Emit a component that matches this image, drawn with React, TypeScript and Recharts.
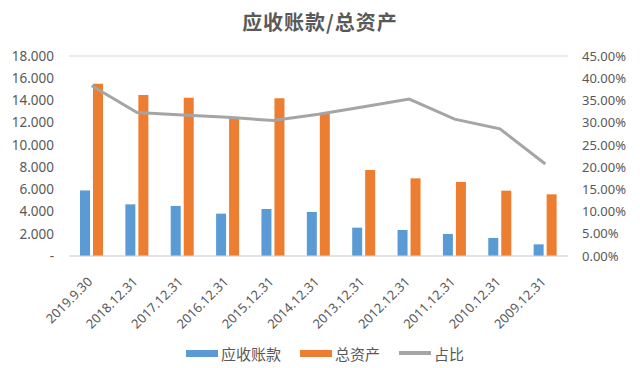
import { Bar, CartesianGrid, ComposedChart, Legend, Line, XAxis, YAxis } from 'recharts'

const periods = [
  '2019.9.30', '2018.12.31', '2017.12.31', '2016.12.31', '2015.12.31', '2014.12.31',
  '2013.12.31', '2012.12.31', '2011.12.31', '2010.12.31', '2009.12.31',
]
const receivables = [5900, 4650, 4500, 3810, 4230, 3960, 2550, 2340, 1980, 1620, 1050]
const totalAssets = [15500, 14490, 14250, 12450, 14190, 12800, 7740, 6990, 6660, 5880, 5550]
const ratio = [38.3, 32.3, 31.7, 31.2, 30.5, 31.9, 33.6, 35.3, 30.8, 28.6, 20.7]
const leftTicks = [0, 2000, 4000, 6000, 8000, 10000, 12000, 14000, 16000, 18000]
const rightTicks = [0, 5, 10, 15, 20, 25, 30, 35, 40, 45]

const rows = periods.map((p, i) => ({
  period: p,
  receivables: receivables[i],
  assets: totalAssets[i],
  ratio: ratio[i],
}))

const font = '"Noto Sans", "Noto Sans CJK SC", sans-serif'
const cjk = '"Noto Sans CJK SC", sans-serif'
const textColor = '#595959'

const legendItems = [
  { name: '应收账款', color: '#5b9bd5', kind: 'bar' },
  { name: '总资产', color: '#ed7d31', kind: 'bar' },
  { name: '占比', color: '#a5a5a5', kind: 'line' },
]

const fmtLeft = (v: number) => (v === 0 ? '-' : new Intl.NumberFormat('de-DE').format(v))
const fmtRight = (v: number) => `${v.toFixed(2)}%`

function RotatedTick({ x, y, payload }: any) {
  return (
    <text
      transform={`translate(${x - 1},${y + 16}) rotate(-45)`}
      textAnchor="end"
      dominantBaseline="middle"
      fontSize={13}
      fill={textColor}
      fontFamily={font}
    >
      {payload.value}
    </text>
  )
}

function ChartLegend() {
  return (
    <div
      style={{
        display: 'flex',
        justifyContent: 'center',
        alignItems: 'center',
        height: 30,
        gap: 19,
        paddingLeft: 10,
        fontFamily: cjk,
        fontSize: 15,
        color: textColor,
      }}
    >
      {legendItems.map((item) => (
        <div key={item.name} style={{ display: 'flex', alignItems: 'center', gap: 3 }}>
          <span
            style={{
              display: 'inline-block',
              width: 32,
              height: item.kind === 'bar' ? 7 : 4,
              background: item.color,
            }}
          />
          <span>{item.name}</span>
        </div>
      ))}
    </div>
  )
}

export default function App() {
  return (
    <div style={{ position: 'absolute', left: 0, top: 0, width: 640, height: 368, background: '#fff' }}>
      <div
        style={{
          position: 'absolute',
          top: 8,
          left: 0,
          width: 640,
          textAlign: 'center',
          fontFamily: cjk,
          fontSize: 20,
          lineHeight: '28px',
          fontWeight: 700,
          color: textColor,
          letterSpacing: 1,
        }}
      >
        应收账款/总资产
      </div>
      <ComposedChart
        width={640}
        height={368}
        data={rows}
        margin={{ top: 56, right: 0, bottom: 0, left: 0 }}
        barSize={10}
        barGap={3}
      >
        <CartesianGrid vertical={false} stroke="#d9d9d9" />
        <XAxis
          dataKey="period"
          height={82}
          interval={0}
          tick={<RotatedTick />}
          tickLine={false}
          axisLine={{ stroke: '#d9d9d9' }}
        />
        <YAxis
          yAxisId="left"
          width={69}
          domain={[0, 18000]}
          ticks={leftTicks}
          tickFormatter={fmtLeft}
          tickLine={false}
          axisLine={false}
          tick={{ fontSize: 13.5, fill: textColor, fontFamily: font, dx: -7 }}
        />
        <YAxis
          yAxisId="right"
          orientation="right"
          width={72}
          domain={[0, 45]}
          ticks={rightTicks}
          tickFormatter={fmtRight}
          tickLine={false}
          axisLine={false}
          tick={{ fontSize: 13, fill: textColor, fontFamily: font, textAnchor: 'start', dx: 6 }}
        />
        <Bar yAxisId="left" dataKey="receivables" name="应收账款" fill="#5b9bd5" isAnimationActive={false} />
        <Bar yAxisId="left" dataKey="assets" name="总资产" fill="#ed7d31" isAnimationActive={false} />
        <Line
          yAxisId="right"
          dataKey="ratio"
          name="占比"
          stroke="#a5a5a5"
          strokeWidth={3}
          dot={false}
          type="linear"
          isAnimationActive={false}
        />
        <Legend verticalAlign="bottom" height={30} content={<ChartLegend />} />
      </ComposedChart>
    </div>
  )
}
